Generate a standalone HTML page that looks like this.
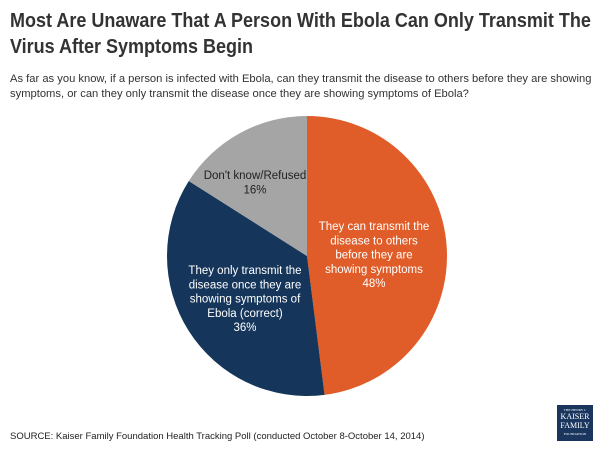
<!DOCTYPE html>
<html><head><meta charset="utf-8"><style>
body{margin:0;background:#fff;font-family:"Liberation Sans",sans-serif;}
#wrap{position:relative;width:600px;height:450px;overflow:hidden;}
.title{position:absolute;left:10px;top:8px;font-size:20px;font-weight:bold;color:#333;line-height:26px;white-space:nowrap;transform:scaleX(0.9);transform-origin:left top;}
.sub{position:absolute;left:10px;top:72px;width:585px;font-size:11.2px;color:#333;line-height:15px;}
.src{position:absolute;left:10px;top:431px;font-size:9.5px;color:#222;}
.logo{position:absolute;left:557px;top:405px;width:36px;height:36px;background:#1a355e;color:#fff;font-family:"Liberation Serif",serif;text-align:center;}
</style></head><body>
<div id="wrap">
<div class="title">Most Are Unaware That A Person With Ebola Can Only Transmit The<br>Virus After Symptoms Begin</div>
<div class="sub">As far as you know, if a person is infected with Ebola, can they transmit the disease to others before they are showing symptoms, or can they only transmit the disease once they are showing symptoms of Ebola?</div>
<svg id="pie" width="600" height="450" style="position:absolute;left:0;top:0"></svg>
<div class="src">SOURCE: Kaiser Family Foundation Health Tracking Poll (conducted October 8-October 14, 2014)</div>
<div class="logo"><div style="font-size:3.5px;margin-top:3px">THE HENRY J.</div><div style="font-size:8px;line-height:9px">KAISER<br>FAMILY</div><div style="font-size:3.5px;margin-top:2px">FOUNDATION</div></div>
</div>
<script>
const categories=["They can transmit the disease to others before they are showing symptoms","They only transmit the disease once they are showing symptoms of Ebola (correct)","Don't know/Refused"];
const values=[48,36,16];
const labelLines=[["They can transmit the","disease to others","before they are","showing symptoms"],["They only transmit the","disease once they are","showing symptoms of","Ebola (correct)"],["Don't know/Refused"]];
const colors=["#e05c28","#15355a","#a5a5a5"];
const textColors=["#fff","#fff","#222"];
const labelPos=[[374,230],[245,274],[255,179]];
const svg=document.getElementById('pie');
const NS="http://www.w3.org/2000/svg";
const cx=307,cy=256,r=140;
const total=values.reduce((a,b)=>a+b,0);
let a0=0;
values.forEach((v,i)=>{
  const a1=a0+v/total*2*Math.PI;
  const x0=cx+r*Math.sin(a0),y0=cy-r*Math.cos(a0),x1=cx+r*Math.sin(a1),y1=cy-r*Math.cos(a1);
  const p=document.createElementNS(NS,'path');
  p.setAttribute('d',`M${cx},${cy}L${x0},${y0}A${r},${r} 0 ${a1-a0>Math.PI?1:0} 1 ${x1},${y1}Z`);
  p.setAttribute('fill',colors[i]);
  
  
  svg.appendChild(p);
  const lines=labelLines[i].concat([v+'%']);
  const [lx,ly]=labelPos[i];
  const t=document.createElementNS(NS,'text');
  t.setAttribute('x',lx);t.setAttribute('y',ly);
  t.setAttribute('text-anchor','middle');
  t.setAttribute('font-size','11.5');
  t.setAttribute('fill',textColors[i]);
  t.setAttribute('font-family','Liberation Sans, sans-serif');
  
  
  lines.forEach((ln,j)=>{const s=document.createElementNS(NS,'tspan');s.setAttribute('x',lx);s.setAttribute('dy',j?14.3:0);s.textContent=ln;t.appendChild(s);});
  svg.appendChild(t);
  a0=a1;
});
</script>
</body></html>
